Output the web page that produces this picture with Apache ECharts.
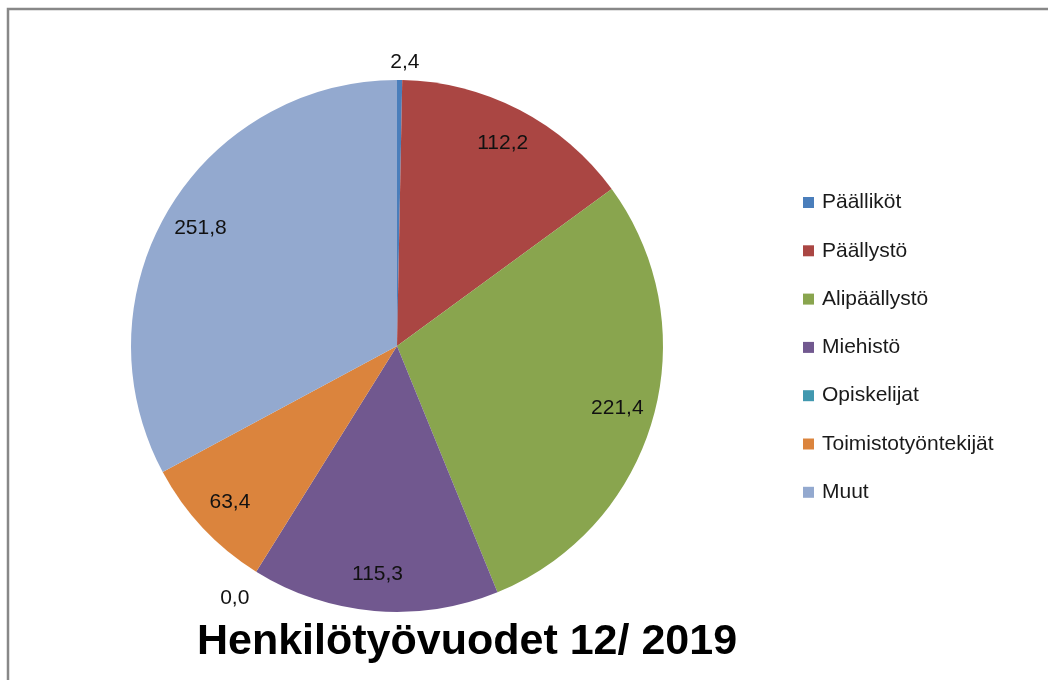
<!DOCTYPE html>
<html>
<head>
<meta charset="utf-8">
<script src="https://cdn.jsdelivr.net/npm/echarts@6/dist/echarts.min.js"></script>
<style>
html,body{margin:0;padding:0;background:#fff;}
#c{width:1048px;height:680px;}
</style>
</head>
<body>
<div id="c"></div>
<script>
const categories = ['Päälliköt','Päällystö','Alipäällystö','Miehistö','Opiskelijat','Toimistotyöntekijät','Muut'];
const values = [2.4, 112.2, 221.4, 115.3, 0.0, 63.4, 251.8];
const colors = ['#4A7EBB','#AA4643','#89A54E','#71588F','#4198AF','#DB843D','#93A9CF'];
const outsideLabels = ['Päälliköt','Opiskelijat'];
const outsideLineLen = {'Päälliköt': 18, 'Opiskelijat': 31};
const titleText = 'Henkilötyövuodet 12/ 2019';

const fmt = v => v.toFixed(1).replace('.', ',');
const FONT = "'Liberation Sans', Arial, sans-serif";

const mainData = categories.map((n, i) => {
  const isOut = outsideLabels.includes(n);
  return {
    name: n, value: values[i],
    itemStyle: {color: colors[i]},
    label: {show: isOut},
    labelLine: {show: false, length: isOut ? outsideLineLen[n] : 10, length2: 0}
  };
});
const overlayData = categories.map((n, i) => ({
  name: n, value: values[i],
  label: {show: !outsideLabels.includes(n)}
}));

const chart = echarts.init(document.getElementById('c'), null, {renderer: 'canvas'});
chart.setOption({
  animation: false,
  backgroundColor: '#fff',
  title: {
    text: titleText, left: 462, top: 616, textAlign: 'center',
    textStyle: {fontFamily: FONT, fontSize: 43, fontWeight: 'bold', color: '#000'}
  },
  legend: {
    orient: 'vertical', left: 798, top: 187,
    data: categories, icon: 'rect', itemWidth: 11, itemHeight: 11, itemGap: 27.3,
    selectedMode: false,
    textStyle: {fontFamily: FONT, fontSize: 21, color: '#1a1a1a', lineHeight: 21, padding: [0,0,0,3]}
  },
  graphic: [{
    type: 'rect', silent: true, z: 100,
    shape: {x: 8, y: 9, width: 1200, height: 800},
    style: {fill: 'none', stroke: '#888888', lineWidth: 2.5}
  }],
  series: [{
    type: 'pie', name: 'main', center: [397, 346], radius: [0, 266],
    startAngle: 90, clockwise: true, avoidLabelOverlap: false,
    itemStyle: {borderWidth: 0},
    label: {position: 'outside', fontFamily: FONT, fontSize: 21, color: '#111',
            formatter: p => fmt(p.value), distanceToLabelLine: 5},
    labelLayout: () => ({align: 'center', verticalAlign: 'middle'}),
    emphasis: {disabled: true},
    data: mainData
  }, {
    type: 'pie', name: 'labels', center: [397, 346], radius: [186, 266],
    startAngle: 90, clockwise: true, silent: true, legendHoverLink: false,
    itemStyle: {color: 'rgba(0,0,0,0)', borderWidth: 0},
    label: {position: 'inside', fontFamily: FONT, fontSize: 21, color: '#111',
            formatter: p => fmt(p.value)},
    labelLine: {show: false},
    emphasis: {disabled: true},
    data: overlayData
  }]
});
</script>
</body>
</html>
